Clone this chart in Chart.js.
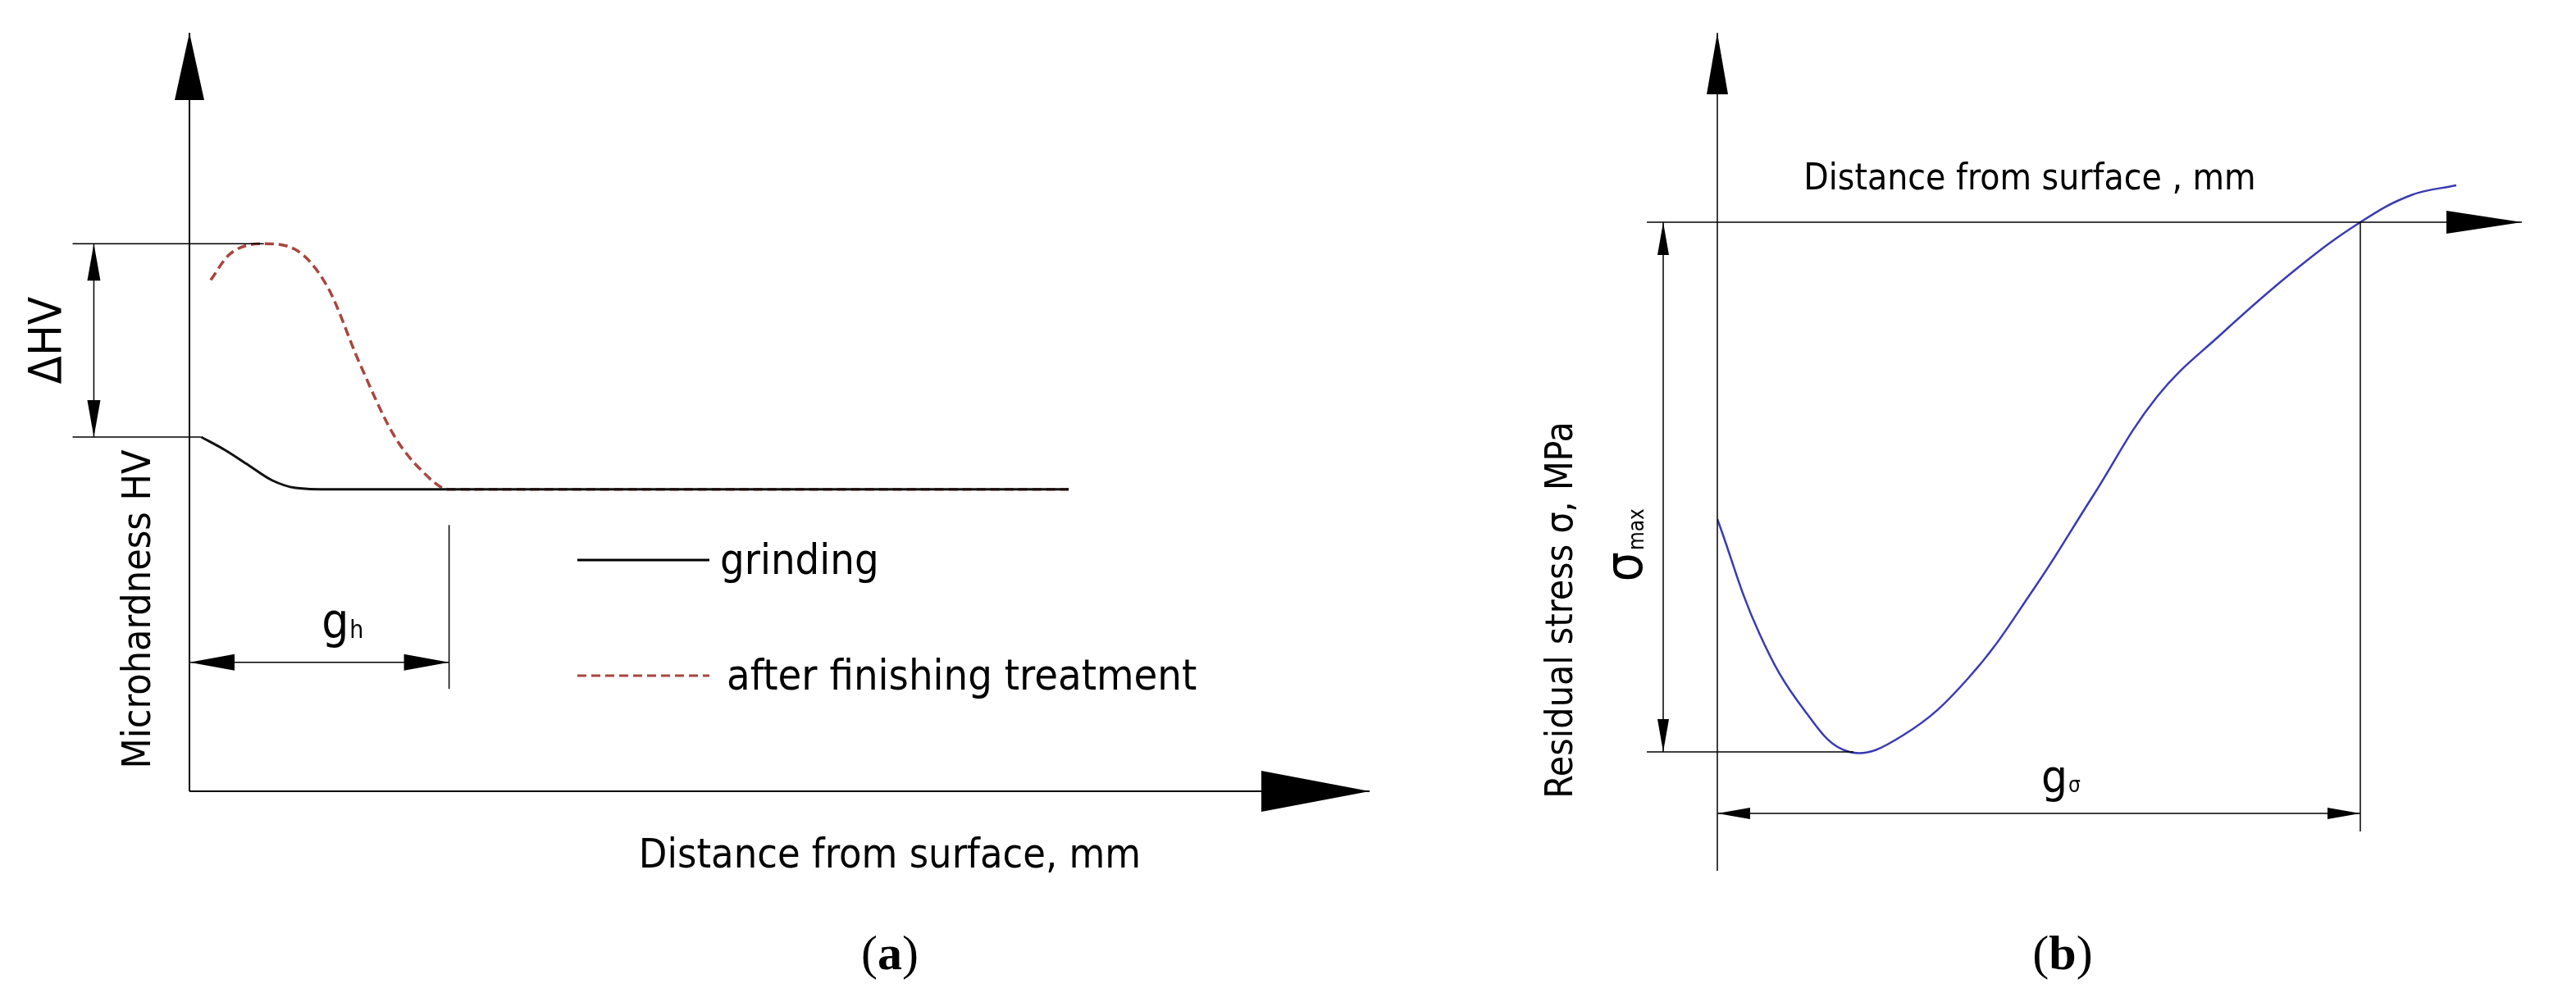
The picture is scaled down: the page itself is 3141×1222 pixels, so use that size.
<!DOCTYPE html>
<html><head><meta charset="utf-8">
<script src="https://cdn.jsdelivr.net/npm/chart.js@4"></script>
<style>html,body{margin:0;background:#fff;width:3141px;height:1222px;overflow:hidden}
canvas{position:absolute;top:0}</style></head>
<body>
<div id="wa" style="position:absolute;left:0;top:0;width:1800px;height:1222px"><canvas id="ca"></canvas></div>
<div id="wb" style="position:absolute;left:1700px;top:0;width:1441px;height:1222px"><canvas id="cb"></canvas></div>
<script>
// Panel (a): microhardness
const grindX = [0.1,0.3,0.5,0.7,0.9,1.2,2.2,7.45];
const grindY = [4.67,4.5,4.3,4.1,4.0,3.98,3.98,3.98];
const finishX = [0.18,0.34,0.63,0.9,1.17,1.44,1.73,1.96,2.2,7.45];
const finishY = [6.74,7.08,7.22,7.14,6.65,5.65,4.7,4.24,3.98,3.98];
const gH = 2.2;
// Panel (b): residual stress
const stressX = [0,0.51,1.06,1.61,2.26,3.06,3.86,4.56,5.36,6.16,7.06,7.84,8.46,9.01];
const stressY = [-3.62,-5.01,-5.95,-6.46,-6.26,-5.56,-4.47,-3.37,-2.13,-1.35,-0.57,0,0.33,0.45];
const gSigma = 7.84;
const labelsA = {y:'Microhardness HV', x:'Distance from surface, mm', d:'ΔHV', g:'g', gs:'h', l1:'grinding', l2:'after finishing treatment', cap:'a'};
const labelsB = {y:'Residual stress σ, MPa', x:'Distance from surface , mm', s:'σ', ss:'max', g:'g', gs:'σ', cap:'b'};

const SANS = '"DejaVu Sans Condensed", "DejaVu Sans", Verdana, sans-serif';
const SERIF = '"Liberation Serif", "DejaVu Serif", serif';
function pts(xs, ys){return xs.map((x,i)=>({x, y:ys[i]}));}
function line(c,x1,y1,x2,y2,w){c.lineWidth=w||2;c.beginPath();c.moveTo(x1,y1);c.lineTo(x2,y2);c.stroke();}
function head(c,tx,ty,dir,len,hw){
  c.beginPath();c.moveTo(tx,ty);
  if(dir==='u'){c.lineTo(tx-hw,ty+len);c.lineTo(tx+hw,ty+len);}
  if(dir==='d'){c.lineTo(tx-hw,ty-len);c.lineTo(tx+hw,ty-len);}
  if(dir==='l'){c.lineTo(tx+len,ty-hw);c.lineTo(tx+len,ty+hw);}
  if(dir==='r'){c.lineTo(tx-len,ty-hw);c.lineTo(tx-len,ty+hw);}
  c.closePath();c.fill();}
function rtext(c,t,x,y,font){c.save();c.translate(x,y);c.rotate(-Math.PI/2);c.font=font;c.textAlign='center';c.textBaseline='middle';c.fillText(t,0,0);c.restore();}
function caption(c,t,x,y){c.textBaseline='middle';c.textAlign='center';
  c.font='60px '+SERIF;const pw=c.measureText('(').width;c.font='bold 60px '+SERIF;const lw=c.measureText(t).width;
  c.textAlign='left';let x0=x-(2*pw+lw)/2;c.font='60px '+SERIF;c.fillText('(',x0,y);
  c.font='bold 60px '+SERIF;c.fillText(t,x0+pw,y);c.font='60px '+SERIF;c.fillText(')',x0+pw+lw,y);}
function baseOpts(pad, xr, yr){return {responsive:true,maintainAspectRatio:false,animation:false,
  layout:{padding:pad},plugins:{legend:{display:false},tooltip:{enabled:false}},
  scales:{x:{type:'linear',display:false,min:xr[0],max:xr[1]},y:{type:'linear',display:false,min:yr[0],max:yr[1]}}};}

const drawA = {id:'drawA', afterDraw(ch){
  const c=ch.ctx, X=v=>ch.scales.x.getPixelForValue(v), Y=v=>ch.scales.y.getPixelForValue(v);
  c.save();c.strokeStyle='#000';c.fillStyle='#000';
  line(c,X(0),Y(10),X(0),Y(0),2); line(c,X(0),Y(0),X(10),Y(0),2);
  head(c,X(0),Y(10),'u',82,18); head(c,X(10),Y(0),'r',132,25);
  const top=Math.max(...finishY), base=grindY[0], pk=finishX[finishY.indexOf(top)];
  line(c,X(-0.99),Y(top),X(pk),Y(top),1.5); line(c,X(-0.99),Y(base),X(grindX[0]),Y(base),1.5);
  line(c,X(-0.81),Y(top),X(-0.81),Y(base),1.5);
  head(c,X(-0.81),Y(top),'u',45,8); head(c,X(-0.81),Y(base),'d',45,8);
  rtext(c,labelsA.d,X(-1.19),(Y(top)+Y(base))/2,'56px '+SANS);
  rtext(c,labelsA.y,X(-0.42),Y(2.4),'48px '+SANS);
  line(c,X(gH),Y(3.51),X(gH),Y(1.35),1.5);
  line(c,X(0),Y(1.7),X(gH),Y(1.7),1.5);
  head(c,X(0),Y(1.7),'l',55,10); head(c,X(gH),Y(1.7),'r',55,10);
  c.font='58px '+SANS;c.textAlign='left';c.textBaseline='alphabetic';
  c.fillText(labelsA.g,X(1.12),Y(2.02)); c.font='30px '+SANS; c.fillText(labelsA.gs,X(1.12)+34,Y(2.02));
  line(c,704,683,865,683,3);
  c.save();c.strokeStyle='#a8463e';c.setLineDash([11,6]);line(c,704,824,865,824,3);c.restore();
  c.font='52px '+SANS;c.textBaseline='middle';
  c.fillText(labelsA.l1,878,686); c.fillText(labelsA.l2,886,827);
  c.textAlign='center';c.font='50px '+SANS;c.fillText(labelsA.x,1085,1045);
  caption(c,labelsA.cap,1085,1166);
  c.restore();}};

const drawB = {id:'drawB', afterDraw(ch){
  const c=ch.ctx, X=v=>ch.scales.x.getPixelForValue(v), Y=v=>ch.scales.y.getPixelForValue(v);
  const ymin=ch.scales.y.min, ymax=ch.scales.y.max, xmax=ch.scales.x.max;
  c.save();c.strokeStyle='#000';c.fillStyle='#000';
  line(c,X(0),Y(ymax),X(0),Y(ymin),1.5); line(c,X(-0.86),Y(0),X(xmax),Y(0),1.5);
  head(c,X(0),Y(ymax),'u',75,13); head(c,X(xmax),Y(0),'r',92,14);
  const smin=Math.min(...stressY), sx=stressX[stressY.indexOf(smin)];
  line(c,X(-0.86),Y(smin),X(sx+0.05),Y(smin),1.5);
  line(c,X(-0.66),Y(0),X(-0.66),Y(smin),1.5);
  head(c,X(-0.66),Y(0),'u',40,7); head(c,X(-0.66),Y(smin),'d',40,7);
  line(c,X(gSigma),Y(0),X(gSigma),Y(-7.43),1.5);
  line(c,X(0),Y(-7.21),X(gSigma),Y(-7.21),1.5);
  head(c,X(0),Y(-7.21),'l',40,7); head(c,X(gSigma),Y(-7.21),'r',40,7);
  rtext(c,labelsB.y,X(-1.89),Y(-4.73),'46px '+SANS);
  c.save();c.translate(X(-1.09),Y(-4.12));c.rotate(-Math.PI/2);c.font='64px '+SANS;c.textBaseline='middle';c.textAlign='right';
  c.fillText(labelsB.s,10,0);c.font='26px '+SANS;c.textAlign='left';c.fillText(labelsB.ss,12,12);c.restore();
  c.textAlign='left';c.textBaseline='alphabetic';c.font='56px '+SANS;
  c.fillText(labelsB.g,X(3.95),Y(-6.95)); c.font='26px '+SANS;c.fillText(labelsB.gs,X(3.95)+33,Y(-6.95));
  c.textAlign='center';c.textBaseline='middle';c.font='44px '+SANS;c.fillText(labelsB.x,X(3.81),Y(0.51));
  caption(c,labelsB.cap,X(4.21),1166);
  c.restore();}};

new Chart(document.getElementById('ca'),{type:'scatter',
  data:{datasets:[
    {data:pts(grindX,grindY),showLine:true,borderColor:'#111',borderWidth:3,pointRadius:0,cubicInterpolationMode:'monotone'},
    {data:pts(finishX,finishY),showLine:true,borderColor:'#a8463e',borderWidth:3.5,borderDash:[11,6],pointRadius:0,cubicInterpolationMode:'monotone'}]},
  options:baseOpts({left:231,right:130,top:40,bottom:257},[0,10],[0,10]),plugins:[drawA]});

new Chart(document.getElementById('cb'),{type:'scatter',
  data:{datasets:[
    {data:pts(stressX,stressY),showLine:true,borderColor:'#3a3ab4',borderWidth:2.5,pointRadius:0,tension:0.4}]},
  options:baseOpts({left:394,right:66,top:40,bottom:160},[0,9.81],[-7.91,2.31]),plugins:[drawB]});
</script></body></html>
